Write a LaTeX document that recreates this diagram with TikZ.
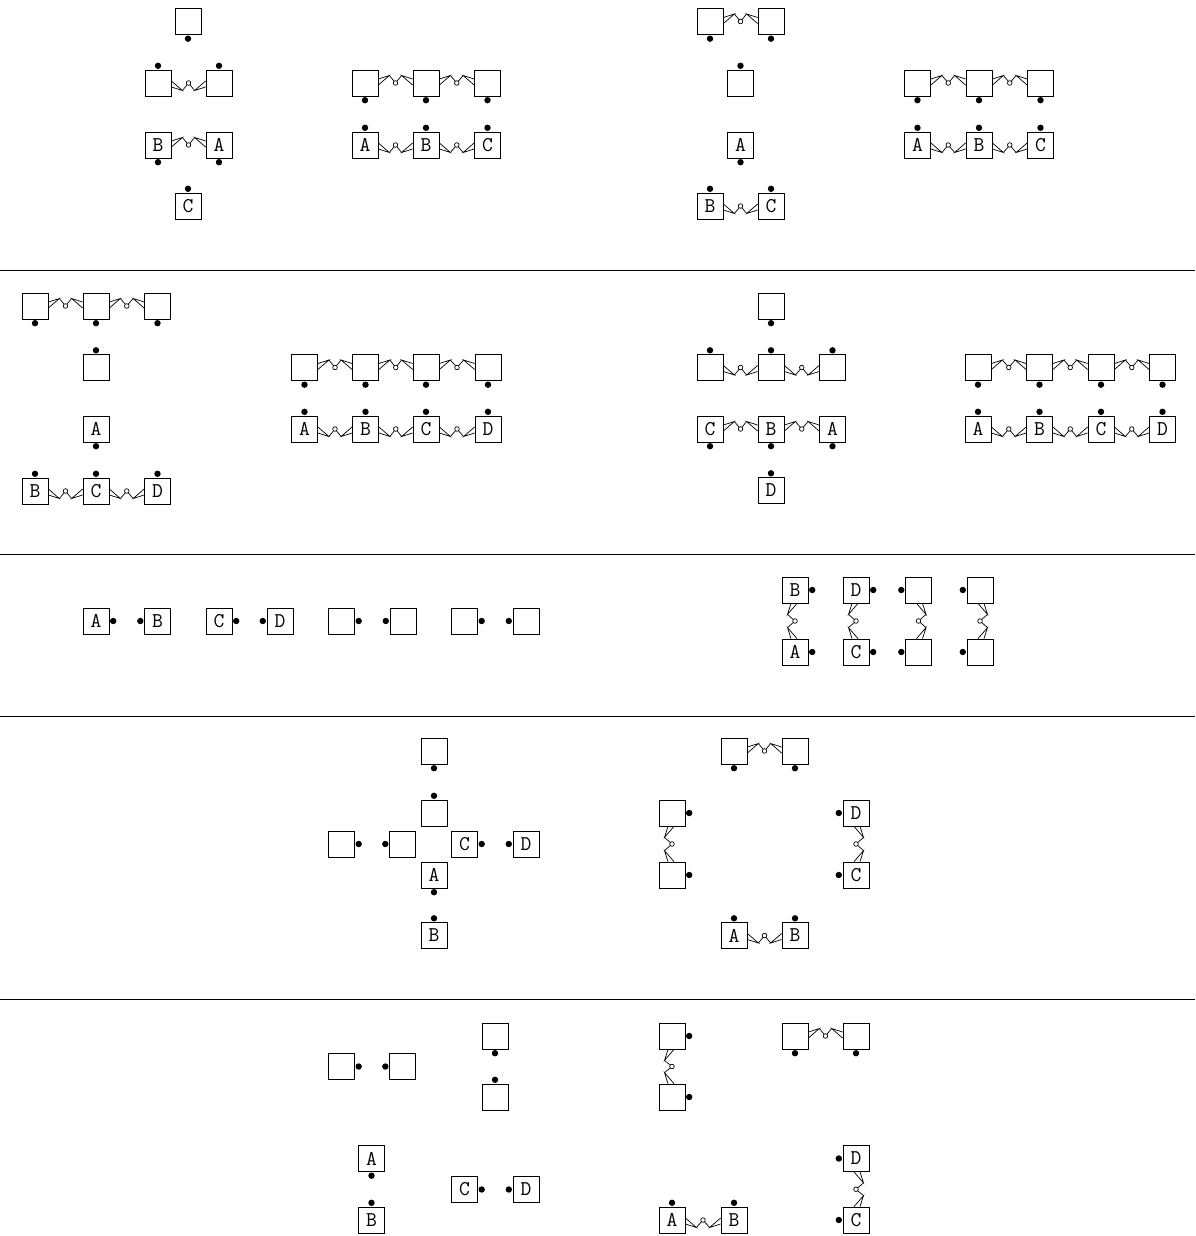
\documentclass[tikz,border=0pt]{standalone}
\usepackage{fontspec}
\usetikzlibrary{calc}
\tikzset{
  box/.style={draw, line width=0.8pt, minimum size=26pt, inner sep=0pt,
    font=\fontsize{21}{21}\selectfont\ttfamily},
  bondline/.style={line width=0.7pt},
  sepline/.style={line width=0.8pt},
}
\newcommand\bxS[3]{\node[box] (#1) at (#2) {#3}; \fill ($(#1.south)+(0,3.8)$) circle (3.2pt);}
\newcommand\bxN[3]{\node[box] (#1) at (#2) {#3}; \fill ($(#1.north)+(0,-3.8)$) circle (3.2pt);}
\newcommand\bxE[3]{\node[box] (#1) at (#2) {#3}; \fill ($(#1.east)+(3.8,0)$) circle (3.2pt);}
\newcommand\bxW[3]{\node[box] (#1) at (#2) {#3}; \fill ($(#1.west)+(-3.8,0)$) circle (3.2pt);}
% horizontal bond: #1 left node, #2 right node, #3 = +1 (peak down) / -1 (peak up)
\newcommand\hbond[3]{%
  \coordinate (hbP) at ($(#1.east)+(11,{7.5*(#3)})$);
  \coordinate (hbQ) at ($(#2.west)+(-11,{7.5*(#3)})$);
  \coordinate (hbM) at ($(#1.east)!0.5!(#2.west)$);
  \draw[bondline] ($(#1.east)+(0,{-2*(#3)})$) -- (hbP) -- ($(#1.east)+(0,{4*(#3)})$);
  \draw[bondline] ($(#2.west)+(0,{-2*(#3)})$) -- (hbQ) -- ($(#2.west)+(0,{4*(#3)})$);
  \draw[bondline] (hbP) -- (hbM) -- (hbQ);
  \draw[bondline, fill=white] (hbM) circle (2.3pt);
}
% vertical bond: #1 top node, #2 bottom node, #3 = +1 (peak right) / -1 (peak left)
\newcommand\vbond[3]{%
  \coordinate (vbP) at ($(#1.south)+({7.5*(#3)},11)$);
  \coordinate (vbQ) at ($(#2.north)+({7.5*(#3)},-11)$);
  \coordinate (vbM) at ($(#1.south)!0.5!(#2.north)$);
  \draw[bondline] ($(#1.south)+({-2*(#3)},0)$) -- (vbP) -- ($(#1.south)+({4*(#3)},0)$);
  \draw[bondline] ($(#2.north)+({-2*(#3)},0)$) -- (vbQ) -- ($(#2.north)+({4*(#3)},0)$);
  \draw[bondline] (vbP) -- (vbM) -- (vbQ);
  \draw[bondline, fill=white] (vbM) circle (2.3pt);
}
\begin{document}
\begin{tikzpicture}[x=1pt, y=-1pt]
\useasboundingbox (0,0) rectangle (1195,1236);
% separators
\draw[sepline] (0,270) -- (1195,270);
\draw[sepline] (0,554) -- (1195,554);
\draw[sepline] (0,716) -- (1195,716);
\draw[sepline] (0,999) -- (1195,999);

% ---------- Row 1 ----------
% Group A
\bxS{aT}{188,21.5}{}
\bxN{aL}{158,83}{} \bxN{aR}{219,83}{} \hbond{aL}{aR}{1}
\bxS{aB}{158,145}{B} \bxS{aA}{219,145}{A} \hbond{aB}{aA}{-1}
\bxN{aC}{188,206}{C}
% Group B
\bxS{b1}{365,83}{} \bxS{b2}{426,83}{} \bxS{b3}{487.5,83}{}
\hbond{b1}{b2}{-1} \hbond{b2}{b3}{-1}
\bxN{bA}{365,145}{A} \bxN{bB}{426,145}{B} \bxN{bC}{487.5,145}{C}
\hbond{bA}{bB}{1} \hbond{bB}{bC}{1}
% Group C
\bxS{c1}{710,21.5}{} \bxS{c2}{771,21.5}{} \hbond{c1}{c2}{-1}
\bxN{c3}{740.5,83}{}
\bxS{cA}{740.5,145}{A}
\bxN{cB}{710,206}{B} \bxN{cC}{771,206}{C} \hbond{cB}{cC}{1}
% Group D
\bxS{d1}{917.5,83}{} \bxS{d2}{979,83}{} \bxS{d3}{1040.5,83}{}
\hbond{d1}{d2}{-1} \hbond{d2}{d3}{-1}
\bxN{dA}{917.5,145}{A} \bxN{dB}{979,145}{B} \bxN{dC}{1040.5,145}{C}
\hbond{dA}{dB}{1} \hbond{dB}{dC}{1}

% ---------- Row 2 ----------
% Group E
\bxS{e1}{35,306}{} \bxS{e2}{96,306}{} \bxS{e3}{157.5,306}{}
\hbond{e1}{e2}{-1} \hbond{e2}{e3}{-1}
\bxN{e4}{96,367.5}{}
\bxS{eA}{96,429}{A}
\bxN{eB}{35,491}{B} \bxN{eC}{96,491}{C} \bxN{eD}{157.5,491}{D}
\hbond{eB}{eC}{1} \hbond{eC}{eD}{1}
% Group F
\bxS{f1}{304.5,367.5}{} \bxS{f2}{365.5,367.5}{} \bxS{f3}{426,367.5}{} \bxS{f4}{488,367.5}{}
\hbond{f1}{f2}{-1} \hbond{f2}{f3}{-1} \hbond{f3}{f4}{-1}
\bxN{fA}{304.5,429}{A} \bxN{fB}{365.5,429}{B} \bxN{fC}{426,429}{C} \bxN{fD}{488,429}{D}
\hbond{fA}{fB}{1} \hbond{fB}{fC}{1} \hbond{fC}{fD}{1}
% Group G
\bxS{g1}{771,306}{}
\bxN{g2}{710,367.5}{} \bxN{g3}{771,367.5}{} \bxN{g4}{832.5,367.5}{}
\hbond{g2}{g3}{1} \hbond{g3}{g4}{1}
\bxS{gC}{710,429}{C} \bxS{gB}{771,429}{B} \bxS{gA}{832.5,429}{A}
\hbond{gC}{gB}{-1} \hbond{gB}{gA}{-1}
\bxN{gD}{771,490.5}{D}
% Group H
\bxS{h1}{978,367.5}{} \bxS{h2}{1039.5,367.5}{} \bxS{h3}{1101,367.5}{} \bxS{h4}{1162.5,367.5}{}
\hbond{h1}{h2}{-1} \hbond{h2}{h3}{-1} \hbond{h3}{h4}{-1}
\bxN{hA}{978,429}{A} \bxN{hB}{1039.5,429}{B} \bxN{hC}{1101,429}{C} \bxN{hD}{1162.5,429}{D}
\hbond{hA}{hB}{1} \hbond{hB}{hC}{1} \hbond{hC}{hD}{1}

% ---------- Row 3 ----------
% Group I
\bxE{iA}{96,621}{A} \bxW{iB}{157.5,621}{B}
\bxE{iC}{219,621}{C} \bxW{iD}{280,621}{D}
\bxE{i5}{341.5,621}{} \bxW{i6}{403,621}{}
\bxE{i7}{464.5,621}{} \bxW{i8}{526,621}{}
% Group J
\bxE{jB}{795,590}{B} \bxE{jA}{795,652}{A} \vbond{jB}{jA}{-1}
\bxE{jD}{856,590}{D} \bxE{jC}{856,652}{C} \vbond{jD}{jC}{-1}
\bxW{j5}{918.5,590}{} \bxW{j6}{918.5,652}{} \vbond{j5}{j6}{1}
\bxW{j7}{980,590}{} \bxW{j8}{980,652}{} \vbond{j7}{j8}{1}

% ---------- Row 4 ----------
% Group K
\bxS{k1}{434,751}{}
\bxN{k2}{434,813}{}
\bxE{k3}{341.5,844}{} \bxW{k4}{402.5,844}{}
\bxE{kC}{464.5,844}{C} \bxW{kD}{526,844}{D}
\bxS{kA}{434,875}{A}
\bxN{kB}{434,935.5}{B}
% Group L
\bxS{l1}{734,751}{} \bxS{l2}{795,751}{} \hbond{l1}{l2}{-1}
\bxE{l3}{672,813}{} \bxE{l4}{672,875}{} \vbond{l3}{l4}{-1}
\bxW{lD}{856,813}{D} \bxW{lC}{856,875}{C} \vbond{lD}{lC}{1}
\bxN{lA}{734,935.5}{A} \bxN{lB}{795,935.5}{B} \hbond{lA}{lB}{1}

% ---------- Row 5 ----------
% Group M
\bxE{m1}{341.5,1066.5}{} \bxW{m2}{402.5,1066.5}{}
\bxS{m3}{495,1036}{} \bxN{m4}{495,1097}{}
\bxS{mA}{371.5,1158.5}{A} \bxN{mB}{371.5,1220}{B}
\bxE{mC}{464.5,1189.5}{C} \bxW{mD}{526,1189.5}{D}
% Group N
\bxE{n1}{672,1036}{} \bxE{n2}{672,1097}{} \vbond{n1}{n2}{-1}
\bxS{n3}{795,1036}{} \bxS{n4}{856,1036}{} \hbond{n3}{n4}{-1}
\bxN{nA}{672,1220}{A} \bxN{nB}{734,1220}{B} \hbond{nA}{nB}{1}
\bxW{nD}{856,1158.5}{D} \bxW{nC}{856,1220}{C} \vbond{nD}{nC}{1}
\end{tikzpicture}
\end{document}
